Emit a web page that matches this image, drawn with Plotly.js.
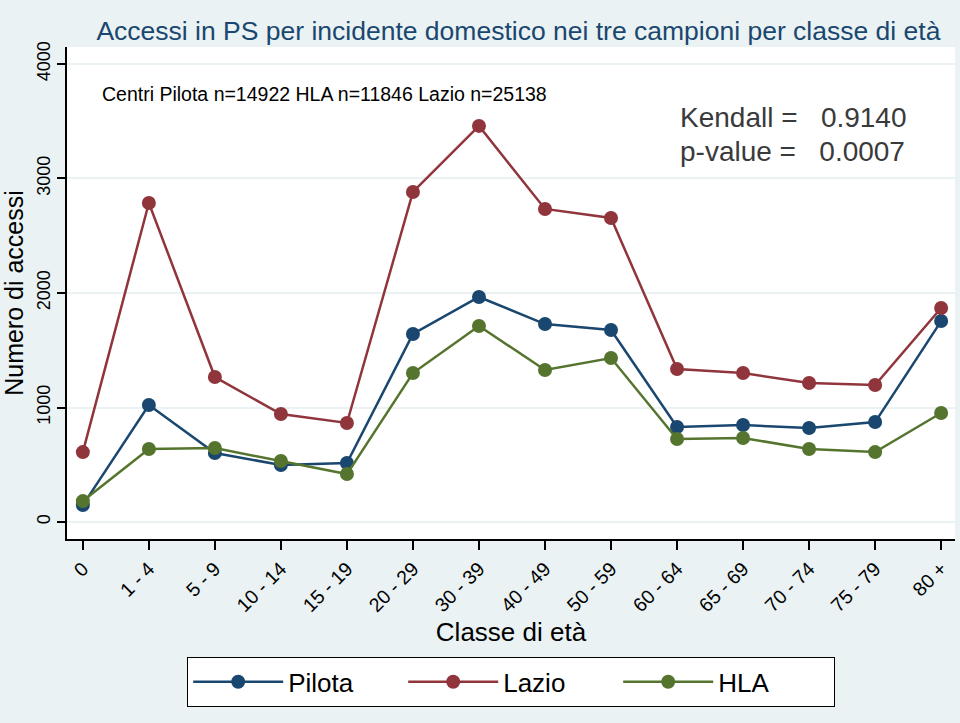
<!DOCTYPE html>
<html><head><meta charset="utf-8">
<script src="https://cdn.plot.ly/plotly-3.0.1.min.js"></script>
<style>body{margin:0;padding:0;background:#eaf2f3}#chart{width:960px;height:723px}</style>
</head><body><div id="chart"></div>
<script>
const classi = ["0","1 - 4","5 - 9","10 - 14","15 - 19","20 - 29","30 - 39","40 - 49","50 - 59","60 - 64","65 - 69","70 - 74","75 - 79","80 +"];
const pilota = [148,1022,603,498,515,1642,1965,1729,1677,830,847,821,873,1755];
const lazio = [611,2786,1266,943,865,2882,3459,2734,2655,1336,1301,1214,1197,1869];
const hla = [183,638,646,533,419,1301,1712,1328,1432,725,734,638,611,952];
const yTicks = [0,1000,2000,3000,4000];

const font = "Liberation Sans, Arial, sans-serif";
function tr(name, y, color){
  return {x: classi, y: y, name: name, type: "scatter", mode: "lines+markers",
    line: {color: color, width: 2.5}, marker: {color: color, size: 14}};
}
const data = [tr("Pilota", pilota, "#1a476f"), tr("Lazio", lazio, "#90353b"), tr("HLA", hla, "#55752f")];
const layout = {
  width: 960, height: 723,
  paper_bgcolor: "#eaf2f3", plot_bgcolor: "#ffffff",
  margin: {l: 67, r: 5, t: 47, b: 184},
  font: {family: font, color: "#000"},
  title: {text: "Accessi in PS per incidente domestico nei tre campioni per classe di età",
    x: 0.54, xref: "container", xanchor: "center", y: 0.958, yanchor: "middle",
    font: {size: 26.5, color: "#1a476f", family: font}},
  xaxis: {type: "category", range: [-0.24, 13.21], showgrid: false, zeroline: false,
    showline: true, linecolor: "#000", linewidth: 1.5, ticks: "outside", ticklen: 9, tickwidth: 1.5, tickcolor: "#000",
    tickangle: -45, tickfont: {size: 19.5},
    title: {text: "Classe di età", font: {size: 26}, standoff: 8}},
  yaxis: {range: [-148, 4148], tickvals: yTicks, ticktext: yTicks.map(String), showgrid: true, gridcolor: "#eaf2f3", gridwidth: 1.5,
    zeroline: false, showline: true, linecolor: "#000", linewidth: 1.5, ticks: "outside", ticklen: 8, tickwidth: 1.5, tickcolor: "#000",
    tickangle: -90, tickfont: {size: 18},
    title: {text: "Numero di accessi", font: {size: 25}, standoff: 6}},
  legend: {orientation: "h", x: 0.5, xanchor: "center", y: -0.24, yanchor: "top",
    bgcolor: "#ffffff", bordercolor: "#000", borderwidth: 1.2, font: {size: 26},
    entrywidth: 110, itemwidth: 90},
  annotations: [
    {text: "Centri Pilota n=14922 HLA n=11846 Lazio n=25138", xref: "paper", yref: "paper",
      x: 0.037, y: 0.905, xanchor: "left", yanchor: "middle", showarrow: false, font: {size: 19.5, color: "#000"}},
    {text: "Kendall =   0.9140", xref: "paper", yref: "paper",
      x: 0.688, y: 0.857, xanchor: "left", yanchor: "middle", showarrow: false, font: {size: 28, color: "#3a3a3a"}},
    {text: "p-value =   0.0007", xref: "paper", yref: "paper",
      x: 0.688, y: 0.788, xanchor: "left", yanchor: "middle", showarrow: false, font: {size: 28, color: "#3a3a3a"}}
  ]
};
Plotly.newPlot("chart", data, layout, {displayModeBar: false});
</script></body></html>
